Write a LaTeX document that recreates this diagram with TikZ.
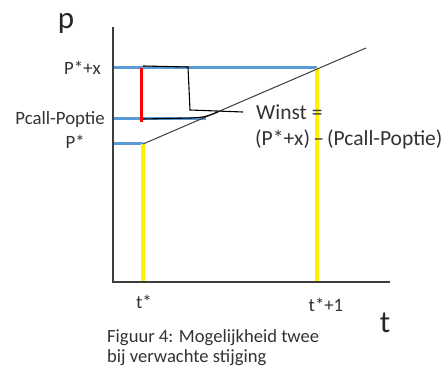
\documentclass[tikz,border=0pt]{standalone}
\usepackage{fontspec}
\setmainfont{Carlito}
\definecolor{offblue}{RGB}{91,155,213}
\definecolor{axisgray}{RGB}{60,60,60}
\begin{document}
\begin{tikzpicture}[x=1pt,y=-1pt,
  lbl/.style={font=\fontsize{18.8}{21}\selectfont, text=black!80, inner sep=0pt},
  wlbl/.style={font=\fontsize{21.5}{24}\selectfont, text=black!80, inner sep=0pt},
  big/.style={font=\fontsize{31}{33}\selectfont, text=black!85, inner sep=0pt},
  captext/.style={font=\fontsize{18.6}{20.5}\selectfont, text=black!80, inner sep=0pt, align=left},
  bluel/.style={offblue, line width=3pt},
  yell/.style={yellow, line width=3.5pt},
  redl/.style={red, line width=3pt},
  axis/.style={axisgray, line width=1.3pt}]
\useasboundingbox (0,0) rectangle (448,369);
% axes
\coordinate (ytop) at (113,27);
\coordinate (orig) at (113,282);
\coordinate (xend) at (390,282);
% levels
\coordinate (ax1) at (113,68);
\coordinate (ax2) at (113,119);
\coordinate (ax3) at (113,144);
\coordinate (b1) at (317,68);
\coordinate (b2) at (206,119);
\coordinate (b3) at (143,144);
\coordinate (t1) at (143,282);
\coordinate (t2) at (317,282);
\coordinate (diagend) at (366,48);
\coordinate (r1) at (141,68);
\coordinate (r2) at (141,122);
% blue lines
\draw[bluel] (ax1) -- (b1);
\draw[bluel] (ax2) -- (b2);
\draw[bluel] (ax3) -- (b3);
% yellow
\draw[yell] (b3) -- (t1);
\draw[yell] (b1) -- (t2);
% red
\draw[redl] (r1) -- (r2);
% diagonal
\draw[axisgray, line width=1pt] (b3) -- (diagend);
% bracket
\coordinate (k1) at (143,66);
\coordinate (k2) at (188,67);
\coordinate (k3) at (190,110);
\coordinate (k4) at (243,112);
\coordinate (k5) at (143,119);
\coordinate (k6) at (192,118);
\coordinate (k7) at (218,112);
\draw[black, line width=1.1pt] (k1) -- (k2) -- (k3) -- (k4);
\draw[black, line width=1.1pt] (k5) -- (k6) .. controls (205,117) .. (k7);
% axes on top
\draw[axis] (ytop) -- (orig) -- (xend);
% labels
\node[big] (lp) at (66,23) {p};
\node[big] (lt) at (385,323) {t};
\node[lbl, anchor=east] (l1) at (101,68) {P*+x};
\node[lbl, anchor=east] (l2) at (105,119) {Pcall-Poptie};
\node[lbl, anchor=east] (l3) at (85,142) {P*};
\node[wlbl, anchor=west] (w1) at (256,112) {Winst =};
\node[wlbl, anchor=west] (w2) at (255,139) {(P*+x)\hspace{0.15em}--\hspace{0.15em}(Pcall-Poptie)};
\node[lbl] (lt1) at (144,302) {t*};
\node[lbl] (lt2) at (326,305) {t*+1};
\node[captext, anchor=north west] (caption) at (107,329) {Figuur 4: Mogelijkheid twee\\bij verwachte stijging};
\end{tikzpicture}
\end{document}
